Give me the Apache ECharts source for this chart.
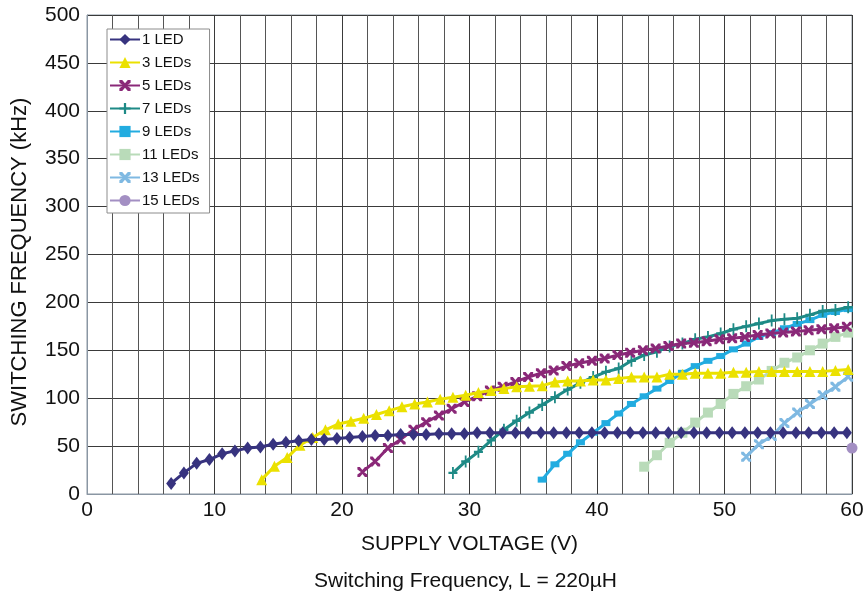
<!DOCTYPE html>
<html><head><meta charset="utf-8">
<script src="https://cdn.jsdelivr.net/npm/echarts@6/dist/echarts.min.js"></script>
<style>html,body{margin:0;padding:0;background:#fff}#c{width:865px;height:595px}</style>
</head><body><div id="c"></div>
<script>
// ---- data ----
const seriesNames = ['1 LED','3 LEDs','5 LEDs','7 LEDs','9 LEDs','11 LEDs','13 LEDs','15 LEDs'];

const v1 = [6.6,7.6,8.6,9.6,10.6,11.6,12.6,13.6,14.6,15.6,16.6,17.6,18.6,19.6,20.6,21.6,22.6,23.6,24.6,25.6,26.6,27.6,28.6,29.6,30.6,31.6,32.6,33.6,34.6,35.6,36.6,37.6,38.6,39.6,40.6,41.6,42.6,43.6,44.6,45.6,46.6,47.6,48.6,49.6,50.6,51.6,52.6,53.6,54.6,55.6,56.6,57.6,58.6,59.6];
const f1 = [11,22,32,36,42,45,48,49,52,54,55.5,57,57,58,59,60,61,61,62,62,62,63,63,63,64,64,64,64,64,64,64,64,64,64,64,64,64,64,64,64,64,64,64,64,64,64,64,64,64,64,64,64,64,64];

const v3 = [13.7,14.7,15.7,16.7,17.7,18.7,19.7,20.7,21.7,22.7,23.7,24.7,25.7,26.7,27.7,28.7,29.7,30.7,31.7,32.7,33.7,34.7,35.7,36.7,37.7,38.7,39.7,40.7,41.7,42.7,43.7,44.7,45.7,46.7,47.7,48.7,49.7,50.7,51.7,52.7,53.7,54.7,55.7,56.7,57.7,58.7,59.7];
const f3 = [15,29,38,51,59,67,73,76,79,83,87,91,94,96,99,101,103,106,108,110,112,112.5,113,117,118,118,119,119,120.5,122,122,122,125,125,126,126,126,127,127,128,128,128,128,128,128,129,130];

const v5 = [21.6,22.6,23.6,24.6,25.6,26.6,27.6,28.6,29.6,30.6,31.6,32.6,33.6,34.6,35.6,36.6,37.6,38.6,39.6,40.6,41.6,42.6,43.6,44.6,45.6,46.6,47.6,48.6,49.6,50.6,51.6,52.6,53.6,54.6,55.6,56.6,57.6,58.6,59.6];
const f5 = [23,34,48,57,67,75,82,89,96,102,108,112,117,122,126,129,133.5,136.5,139,141.5,145,147.5,150,152,154.5,157,158,159.5,161.5,162.5,164,166,167.5,168.5,169.5,171,172,173,174.5];

const v7 = [28.7,29.7,30.7,31.7,32.7,33.7,34.7,35.7,36.7,37.7,38.7,39.7,40.7,41.7,42.7,43.7,44.7,45.7,46.7,47.7,48.7,49.7,50.7,51.7,52.7,53.7,54.7,55.7,56.7,57.7,58.7,59.7];
const f7 = [22,34,44,56,67,76.5,85,93,101,109,116,122,127.5,131,139,145,148.5,154,157,161.5,164,167.5,172,175,178,181,182.5,183.5,187,191,192,195];

const v9 = [35.7,36.7,37.7,38.7,39.7,40.7,41.7,42.7,43.7,44.7,45.7,46.7,47.7,48.7,49.7,50.7,51.7,52.7,53.7,54.7,55.7,56.7,57.7,58.7,59.7];
const f9 = [15,31,42,54,64,74,84,94,102,110,118,126.5,133.5,139,144,151,157,164,168,173,177.5,181.5,187,190,193];

const v11 = [43.7,44.7,45.7,46.7,47.7,48.7,49.7,50.7,51.7,52.7,53.7,54.7,55.7,56.7,57.7,58.7,59.7];
const f11 = [28.5,40.5,53.5,64,74.5,85,94,104.5,112.5,119.5,128.5,137,142.5,150,157,164,168.5];

const v13 = [51.7,52.7,53.7,54.7,55.7,56.7,57.7,58.7,59.7];
const f13 = [39,52,60.5,74,85,94,103,112,122.5];

const v15 = [60];
const f15 = [48];

const xTicks = [0,10,20,30,40,50,60];
const yTicks = [0,50,100,150,200,250,300,350,400,450,500];

// ---- styling ----
const colors = ['#37337f','#ebe100','#8a2878','#1e8a86','#22ace0','#b9dbb9','#7fb9e2','#a38fc3'];
const X_PATH = 'path://M0,0 L2.5,0 L5,3 L7.5,0 L10,0 L10,2.5 L6.5,5 L10,7.5 L10,10 L7.5,10 L5,7 L2.5,10 L0,10 L0,7.5 L3.5,5 L0,2.5 Z';
const PLUS_PATH = 'path://M4,0 L6,0 L6,4 L10,4 L10,6 L6,6 L6,10 L4,10 L4,6 L0,6 L0,4 L4,4 Z';
const symbols = ['diamond','triangle',X_PATH,PLUS_PATH,'rect','rect',X_PATH,'circle'];
const symbolSizes = [[10,13],11,10,[9,12],[9,6],10,10,11];
const vs = [v1,v3,v5,v7,v9,v11,v13,v15];
const fs = [f1,f3,f5,f7,f9,f11,f13,f15];

const FONT = '"Liberation Sans", Arial, Helvetica, sans-serif';

const chart = echarts.init(document.getElementById('c'), null, {renderer:'canvas'});
chart.setOption({
  animation: false,
  backgroundColor: '#fff',
  textStyle: {fontFamily: FONT},
  title: {
    text: 'Switching Frequency, L = 220µH',
    left: 309, top: 566,
    textStyle: {fontFamily: FONT, fontSize: 21, fontWeight: 'normal', color: '#111'}
  },
  grid: {left: 87, right: 13, top: 15, bottom: 101, outerBoundsMode: 'none', containLabel: false,
         show: true, borderColor: '#8a96a3', borderWidth: 1, backgroundColor: 'transparent'},
  legend: {
    orient: 'vertical', left: 107, top: 29,
    data: seriesNames,
    backgroundColor: '#fff', borderColor: '#8c8c8c', borderWidth: 1,
    padding: [3, 10, 5, 2],
    itemWidth: 30, itemHeight: 14, itemGap: 8,
    textStyle: {fontFamily: FONT, fontSize: 15, color: '#111', padding: [0,0,0,-3], lineHeight: 14}
  },
  xAxis: {
    type: 'value', min: xTicks[0], max: xTicks[xTicks.length-1], interval: 10,
    name: 'SUPPLY VOLTAGE (V)', nameLocation: 'middle', nameGap: 40,
    nameTextStyle: {fontFamily: FONT, fontSize: 21, color: '#111'},
    axisLine: {show: true, lineStyle: {color: '#8a96a3', width: 1}},
    axisTick: {show: false},
    axisLabel: {fontFamily: FONT, fontSize: 21, color: '#111', margin: 6},
    splitLine: {show: true, lineStyle: {color: '#3a3a3a', width: 1}},
    minorTick: {show: false, splitNumber: 5},
    minorSplitLine: {show: true, lineStyle: {color: '#555', width: 1}}
  },
  yAxis: {
    type: 'value', min: yTicks[0], max: yTicks[yTicks.length-1], interval: 50,
    name: 'SWITCHING FREQUENCY (kHz)', nameLocation: 'middle', nameGap: 56,
    nameTextStyle: {fontFamily: FONT, fontSize: 22, color: '#111', padding: [0, 15, 0, 0]},
    axisLine: {show: true, lineStyle: {color: '#8a96a3', width: 1}},
    axisTick: {show: false},
    axisLabel: {fontFamily: FONT, fontSize: 21, color: '#111', margin: 7},
    splitLine: {show: true, lineStyle: {color: '#3a3a3a', width: 1}}
  },
  series: seriesNames.map((n, i) => ({
    name: n, type: 'line',
    data: vs[i].map((v, j) => [v, fs[i][j]]),
    color: colors[i],
    symbol: symbols[i], symbolSize: symbolSizes[i],
    showAllSymbol: true,
    lineStyle: {width: 3, color: colors[i]},
    itemStyle: {color: colors[i]},
    z: 10 - i
  }))
});
</script></body></html>
